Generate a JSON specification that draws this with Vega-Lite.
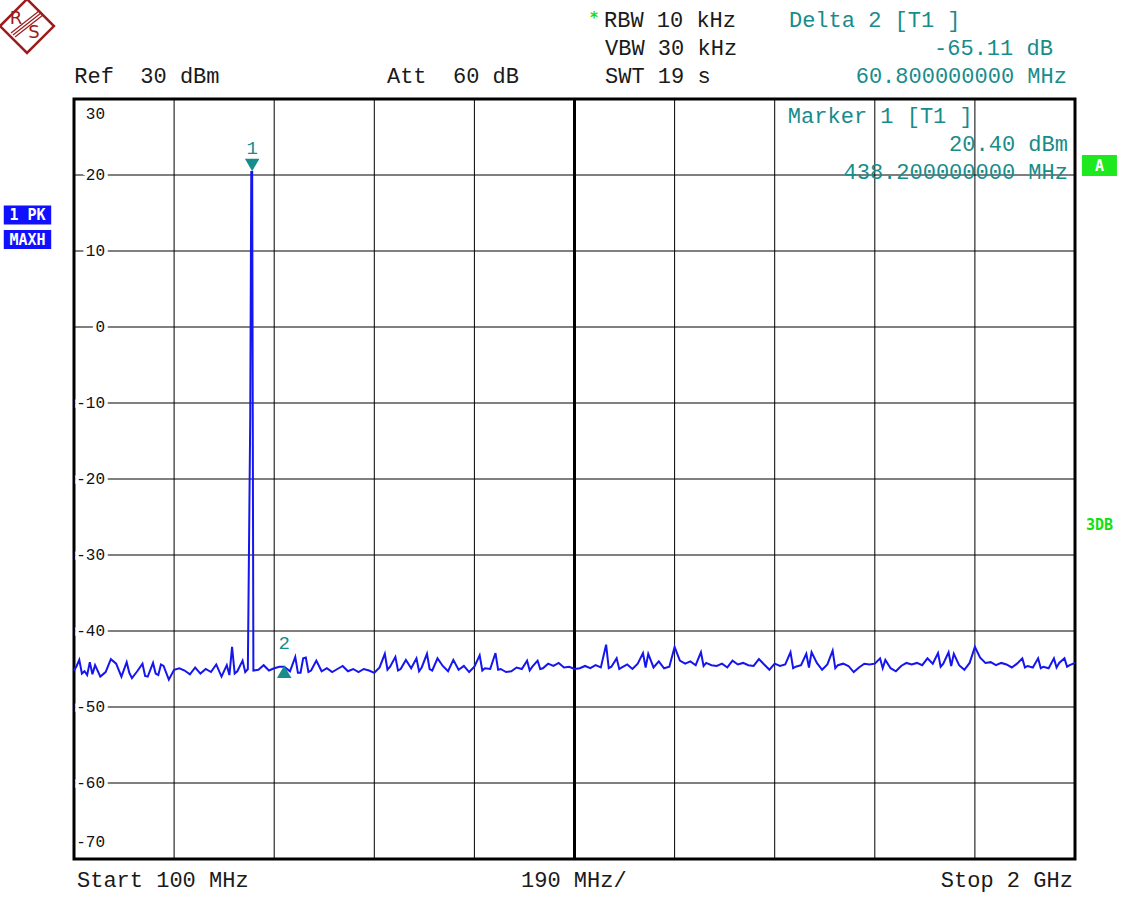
{
  "$schema": "https://vega.github.io/schema/vega-lite/v6.json",
  "width": 1001,
  "height": 760,
  "autosize": {"type": "none"},
  "padding": {"left": 74, "top": 99, "right": 56, "bottom": 43},
  "background": "white",
  "view": {"stroke": "black", "strokeWidth": 3},
  "config": {"font": "Liberation Mono"},
  "datasets": {
    "trace": [
      {"f":100,"db":-45.2},{"f":105,"db":-44.6},{"f":110,"db":-43.8},{"f":115,"db":-45.6},{"f":120,"db":-45.3},{"f":125,"db":-45.8},{"f":130,"db":-44.1},{"f":135,"db":-45.7},{"f":140,"db":-44.5},{"f":150,"db":-46.0},{"f":160,"db":-45.4},{"f":170,"db":-43.7},{"f":180,"db":-44.3},{"f":190,"db":-46.0},
      {"f":200,"db":-44.1},{"f":205,"db":-45.5},{"f":210,"db":-46.2},{"f":220,"db":-45.3},{"f":230,"db":-44.3},{"f":235,"db":-45.9},{"f":240,"db":-46.0},{"f":250,"db":-44.2},{"f":255,"db":-45.6},{"f":260,"db":-45.8},{"f":265,"db":-44.4},{"f":270,"db":-44.6},{"f":280,"db":-46.4},{"f":290,"db":-45.1},
      {"f":300,"db":-44.9},{"f":310,"db":-45.2},{"f":320,"db":-45.7},{"f":330,"db":-44.8},{"f":340,"db":-45.6},{"f":350,"db":-45.0},{"f":360,"db":-45.4},{"f":370,"db":-44.4},{"f":380,"db":-46.0},{"f":390,"db":-44.5},
      {"f":395,"db":-45.8},{"f":400,"db":-42.1},{"f":405,"db":-45.6},{"f":410,"db":-45.3},{"f":420,"db":-43.9},{"f":425,"db":-45.4},{"f":430,"db":-45.0},{"f":434.5,"db":-12.0},{"f":436.5,"db":20.4},{"f":438.2,"db":20.4},{"f":440.5,"db":-45.2},
      {"f":450,"db":-45.1},{"f":460,"db":-44.5},{"f":470,"db":-45.2},{"f":480,"db":-44.9},{"f":490,"db":-44.7},{"f":499,"db":-44.71},{"f":510,"db":-45.3},{"f":520,"db":-43.4},{"f":525,"db":-45.5},{"f":530,"db":-45.5},{"f":535,"db":-43.6},{"f":540,"db":-43.5},{"f":545,"db":-45.4},
      {"f":550,"db":-45.2},{"f":560,"db":-43.9},{"f":570,"db":-45.3},{"f":580,"db":-44.9},{"f":590,"db":-45.4},{"f":600,"db":-45.0},{"f":610,"db":-44.6},{"f":620,"db":-45.3},{"f":630,"db":-45.0},{"f":640,"db":-45.4},
      {"f":650,"db":-45.0},{"f":660,"db":-45.2},{"f":670,"db":-45.5},{"f":680,"db":-44.8},{"f":690,"db":-43.0},{"f":695,"db":-45.1},{"f":700,"db":-44.7},{"f":710,"db":-43.4},{"f":715,"db":-45.2},{"f":720,"db":-45.0},{"f":730,"db":-43.8},{"f":740,"db":-44.9},
      {"f":750,"db":-43.6},{"f":755,"db":-45.3},{"f":760,"db":-44.8},{"f":770,"db":-43.0},{"f":775,"db":-45.0},{"f":780,"db":-45.2},{"f":790,"db":-43.6},{"f":800,"db":-44.6},{"f":810,"db":-45.3},{"f":820,"db":-43.8},{"f":830,"db":-45.1},{"f":840,"db":-44.6},
      {"f":850,"db":-45.4},{"f":860,"db":-44.7},{"f":870,"db":-43.2},{"f":875,"db":-45.2},{"f":880,"db":-44.9},{"f":890,"db":-45.0},{"f":900,"db":-42.9},{"f":905,"db":-45.1},{"f":910,"db":-45.0},{"f":920,"db":-45.4},{"f":930,"db":-45.3},{"f":940,"db":-44.8},
      {"f":950,"db":-45.0},{"f":960,"db":-43.9},{"f":965,"db":-45.2},{"f":970,"db":-44.7},{"f":980,"db":-43.9},{"f":985,"db":-45.0},{"f":990,"db":-44.9},{"f":1000,"db":-44.3},{"f":1010,"db":-44.6},{"f":1020,"db":-44.2},{"f":1030,"db":-44.8},{"f":1040,"db":-44.7},
      {"f":1050,"db":-45.0},{"f":1060,"db":-44.9},{"f":1070,"db":-44.6},{"f":1080,"db":-44.9},{"f":1090,"db":-44.5},{"f":1100,"db":-44.8},{"f":1110,"db":-41.8},{"f":1115,"db":-44.9},{"f":1120,"db":-44.7},{"f":1130,"db":-43.6},{"f":1135,"db":-45.0},{"f":1140,"db":-44.8},
      {"f":1150,"db":-44.4},{"f":1160,"db":-45.0},{"f":1170,"db":-44.3},{"f":1180,"db":-42.9},{"f":1185,"db":-44.8},{"f":1190,"db":-43.0},{"f":1200,"db":-44.8},{"f":1210,"db":-44.0},{"f":1220,"db":-44.9},{"f":1230,"db":-44.7},{"f":1240,"db":-42.1},
      {"f":1250,"db":-43.9},{"f":1260,"db":-44.3},{"f":1270,"db":-44.0},{"f":1280,"db":-44.5},{"f":1290,"db":-42.8},{"f":1295,"db":-44.6},{"f":1300,"db":-44.2},{"f":1310,"db":-44.5},{"f":1320,"db":-44.6},{"f":1330,"db":-44.3},{"f":1340,"db":-44.8},
      {"f":1350,"db":-43.9},{"f":1360,"db":-44.4},{"f":1370,"db":-44.2},{"f":1380,"db":-44.5},{"f":1390,"db":-44.6},{"f":1400,"db":-43.7},{"f":1410,"db":-44.4},{"f":1420,"db":-45.1},{"f":1430,"db":-44.3},{"f":1440,"db":-44.6},
      {"f":1450,"db":-44.4},{"f":1460,"db":-42.8},{"f":1465,"db":-44.9},{"f":1470,"db":-44.7},{"f":1480,"db":-44.5},{"f":1490,"db":-43.0},{"f":1495,"db":-44.8},{"f":1500,"db":-42.8},{"f":1510,"db":-44.2},{"f":1520,"db":-45.1},{"f":1530,"db":-44.4},{"f":1540,"db":-42.6},
      {"f":1545,"db":-44.9},{"f":1550,"db":-44.5},{"f":1560,"db":-44.3},{"f":1570,"db":-44.6},{"f":1580,"db":-45.4},{"f":1590,"db":-44.8},{"f":1600,"db":-44.3},{"f":1610,"db":-44.4},{"f":1620,"db":-44.3},{"f":1630,"db":-43.6},{"f":1635,"db":-44.9},{"f":1640,"db":-43.8},
      {"f":1650,"db":-44.9},{"f":1660,"db":-45.3},{"f":1670,"db":-44.6},{"f":1680,"db":-44.2},{"f":1690,"db":-44.4},{"f":1700,"db":-44.2},{"f":1710,"db":-44.5},{"f":1720,"db":-43.6},{"f":1730,"db":-44.3},{"f":1740,"db":-42.9},
      {"f":1745,"db":-44.7},{"f":1750,"db":-44.3},{"f":1760,"db":-42.8},{"f":1765,"db":-44.6},{"f":1770,"db":-43.0},{"f":1780,"db":-44.5},{"f":1790,"db":-45.1},{"f":1800,"db":-44.2},{"f":1810,"db":-42.1},{"f":1820,"db":-43.5},{"f":1830,"db":-44.2},{"f":1840,"db":-44.1},
      {"f":1850,"db":-44.5},{"f":1860,"db":-44.2},{"f":1870,"db":-44.4},{"f":1880,"db":-44.8},{"f":1890,"db":-44.3},{"f":1900,"db":-43.6},{"f":1905,"db":-44.8},{"f":1910,"db":-44.6},{"f":1920,"db":-44.8},{"f":1930,"db":-43.6},{"f":1935,"db":-44.9},{"f":1940,"db":-44.7},
      {"f":1950,"db":-44.9},{"f":1960,"db":-43.6},{"f":1965,"db":-44.8},{"f":1970,"db":-44.2},{"f":1980,"db":-43.6},{"f":1985,"db":-44.7},{"f":1990,"db":-44.5},{"f":2000,"db":-44.2}
    ],
    "vgrid": [{"f":290},{"f":480},{"f":670},{"f":860},{"f":1240},{"f":1430},{"f":1620},{"f":1810}],
    "hgrid": [{"db":20},{"db":10},{"db":0},{"db":-10},{"db":-20},{"db":-30},{"db":-40},{"db":-50},{"db":-60}],
    "ylabels": [{"db":20,"label":"20"},{"db":10,"label":"10"},{"db":0,"label":"0"},{"db":-10,"label":"-10"},{"db":-20,"label":"-20"},{"db":-30,"label":"-30"},{"db":-40,"label":"-40"},{"db":-50,"label":"-50"},{"db":-60,"label":"-60"}],
    "markers": [{"m":"1","f":438.2,"db":20.4},{"m":"2","f":499.0,"db":-44.71}],
    "notesLeft": [
      {"text":"Ref\u00a0\u00a030\u00a0dBm","f":100.5,"db":33.03,"kind":"setting"},
      {"text":"Att\u00a0\u00a060\u00a0dB","f":694,"db":33.03,"kind":"setting"},
      {"text":"RBW\u00a010\u00a0kHz","f":1106,"db":40.39,"kind":"setting"},
      {"text":"VBW\u00a030\u00a0kHz","f":1108,"db":36.71,"kind":"setting"},
      {"text":"SWT\u00a019\u00a0s","f":1108,"db":33.03,"kind":"setting"},
      {"text":"Delta\u00a02\u00a0[T1\u00a0]","f":1457,"db":40.39,"kind":"marker"},
      {"text":"Marker\u00a01\u00a0[T1\u00a0]","f":1455,"db":27.76,"kind":"marker"},
      {"text":"Start\u00a0100\u00a0MHz","f":105.7,"db":-72.76,"kind":"setting"},
      {"text":"190\u00a0MHz/","f":948.4,"db":-72.76,"kind":"setting"}
    ],
    "notesRight": [
      {"text":"-65.11\u00a0dB","f":1958,"db":36.71,"kind":"marker"},
      {"text":"60.800000000\u00a0MHz","f":1984.7,"db":33.03,"kind":"marker"},
      {"text":"20.40\u00a0dBm","f":1986.6,"db":24.08,"kind":"marker"},
      {"text":"438.200000000\u00a0MHz","f":1986.6,"db":20.39,"kind":"marker"},
      {"text":"Stop\u00a02\u00a0GHz","f":1996,"db":-72.76,"kind":"setting"}
    ],
    "blueBoxes": [{"text":"1\u00a0PK","f":11.7,"db":14.74},{"text":"MAXH","f":11.7,"db":11.51}],
    "greenBox": [{"text":"A","f":2046.4,"db":21.25}],
    "greenText": [{"text":"3DB","f":2046.4,"db":-26.05},{"text":"*","f":1087,"db":40.6}],
    "logo": [{"f":10.8,"db":39.6}],
    "logoText": [{"text":"R","f":-10.1,"db":40.5},{"text":"S","f":24.1,"db":38.7}],
    "logoLines": [
      {"f":-19.6,"db":38.68,"f2":33.6,"db2":41.58},
      {"f":-15.8,"db":38.42,"f2":37.4,"db2":41.32},
      {"f":-12.0,"db":38.16,"f2":41.2,"db2":41.05}
    ]
  },
  "layer": [
    {
      "data": {"name": "hgrid"},
      "mark": {"type": "rule", "color": "black", "strokeWidth": 1},
      "encoding": {
        "y": {"field": "db", "type": "quantitative", "scale": {"domain": [-70, 30], "nice": false, "zero": false}, "axis": null}
      }
    },
    {
      "data": {"name": "vgrid"},
      "mark": {"type": "rule", "color": "black", "strokeWidth": 1},
      "encoding": {
        "x": {"field": "f", "type": "quantitative", "scale": {"domain": [100, 2000], "nice": false, "zero": false}, "axis": null}
      }
    },
    {
      "data": {"values": [{"f": 1050}]},
      "mark": {"type": "rule", "color": "black", "strokeWidth": 3},
      "encoding": {
        "x": {"field": "f", "type": "quantitative", "scale": {"domain": [100, 2000], "nice": false, "zero": false}, "axis": null}
      }
    },
    {
      "data": {"name": "ylabels"},
      "mark": {"type": "text", "align": "right", "baseline": "middle", "dx": 31, "fontSize": 16, "stroke": "white", "strokeWidth": 7, "fill": "white"},
      "encoding": {
        "x": {"datum": 100, "type": "quantitative", "scale": {"domain": [100, 2000], "nice": false, "zero": false}, "axis": null},
        "y": {"field": "db", "type": "quantitative", "scale": {"domain": [-70, 30], "nice": false, "zero": false}, "axis": null},
        "text": {"field": "label"}
      }
    },
    {
      "data": {"name": "ylabels"},
      "mark": {"type": "text", "align": "right", "baseline": "middle", "dx": 31, "fontSize": 16, "fill": "#111"},
      "encoding": {
        "x": {"datum": 100, "type": "quantitative", "scale": {"domain": [100, 2000], "nice": false, "zero": false}, "axis": null},
        "y": {"field": "db", "type": "quantitative", "scale": {"domain": [-70, 30], "nice": false, "zero": false}, "axis": null},
        "text": {"field": "label"}
      }
    },
    {
      "data": {"values": [{"db": 30, "label": "30"}]},
      "mark": {"type": "text", "align": "right", "baseline": "middle", "dx": 31, "dy": 15, "fontSize": 16, "fill": "#111"},
      "encoding": {
        "x": {"datum": 100, "type": "quantitative", "scale": {"domain": [100, 2000], "nice": false, "zero": false}, "axis": null},
        "y": {"field": "db", "type": "quantitative", "scale": {"domain": [-70, 30], "nice": false, "zero": false}, "axis": null},
        "text": {"field": "label"}
      }
    },
    {
      "data": {"values": [{"db": -70, "label": "-70"}]},
      "mark": {"type": "text", "align": "right", "baseline": "middle", "dx": 31, "dy": -17, "fontSize": 16, "fill": "#111"},
      "encoding": {
        "x": {"datum": 100, "type": "quantitative", "scale": {"domain": [100, 2000], "nice": false, "zero": false}, "axis": null},
        "y": {"field": "db", "type": "quantitative", "scale": {"domain": [-70, 30], "nice": false, "zero": false}, "axis": null},
        "text": {"field": "label"}
      }
    },
    {
      "data": {"name": "trace"},
      "mark": {"type": "line", "color": "#1515f0", "strokeWidth": 2, "interpolate": "linear"},
      "encoding": {
        "x": {"field": "f", "type": "quantitative", "scale": {"domain": [100, 2000], "nice": false, "zero": false}, "axis": null},
        "y": {"field": "db", "type": "quantitative", "scale": {"domain": [-70, 30], "nice": false, "zero": false}, "axis": null}
      }
    },
    {
      "data": {"name": "markers"},
      "transform": [{"filter": "datum.m == '1'"}],
      "mark": {"type": "point", "shape": "triangle-down", "filled": true, "color": "#178c8c", "size": 210, "opacity": 1},
      "encoding": {
        "x": {"field": "f", "type": "quantitative", "scale": {"domain": [100, 2000], "nice": false, "zero": false}, "axis": null},
        "y": {"field": "db", "type": "quantitative", "scale": {"domain": [-70, 30], "nice": false, "zero": false}, "axis": null},
        "yOffset": {"value": -7}
      }
    },
    {
      "data": {"name": "markers"},
      "transform": [{"filter": "datum.m == '2'"}],
      "mark": {"type": "point", "shape": "triangle-up", "filled": true, "color": "#178c8c", "size": 210, "opacity": 1},
      "encoding": {
        "x": {"field": "f", "type": "quantitative", "scale": {"domain": [100, 2000], "nice": false, "zero": false}, "axis": null},
        "y": {"field": "db", "type": "quantitative", "scale": {"domain": [-70, 30], "nice": false, "zero": false}, "axis": null},
        "yOffset": {"value": 5}
      }
    },
    {
      "data": {"name": "markers"},
      "mark": {"type": "text", "align": "center", "baseline": "middle", "dy": -24, "fontSize": 19, "color": "#178c8c"},
      "encoding": {
        "x": {"field": "f", "type": "quantitative", "scale": {"domain": [100, 2000], "nice": false, "zero": false}, "axis": null},
        "y": {"field": "db", "type": "quantitative", "scale": {"domain": [-70, 30], "nice": false, "zero": false}, "axis": null},
        "text": {"field": "m"}
      }
    },
    {
      "data": {"name": "notesLeft"},
      "mark": {"type": "text", "align": "left", "baseline": "middle", "fontSize": 22},
      "encoding": {
        "x": {"field": "f", "type": "quantitative", "scale": {"domain": [100, 2000], "nice": false, "zero": false}, "axis": null},
        "y": {"field": "db", "type": "quantitative", "scale": {"domain": [-70, 30], "nice": false, "zero": false}, "axis": null},
        "text": {"field": "text"},
        "color": {"field": "kind", "type": "nominal", "scale": {"domain": ["setting", "marker"], "range": ["#1a1a1a", "#178c8c"]}, "legend": null}
      }
    },
    {
      "data": {"name": "notesRight"},
      "mark": {"type": "text", "align": "right", "baseline": "middle", "fontSize": 22},
      "encoding": {
        "x": {"field": "f", "type": "quantitative", "scale": {"domain": [100, 2000], "nice": false, "zero": false}, "axis": null},
        "y": {"field": "db", "type": "quantitative", "scale": {"domain": [-70, 30], "nice": false, "zero": false}, "axis": null},
        "text": {"field": "text"},
        "color": {"field": "kind", "type": "nominal", "scale": {"domain": ["setting", "marker"], "range": ["#1a1a1a", "#178c8c"]}, "legend": null}
      }
    },
    {
      "data": {"name": "blueBoxes"},
      "mark": {"type": "point", "shape": "M-1,-0.4H1V0.4H-1Z", "filled": true, "color": "#1010ff", "size": 2250, "opacity": 1},
      "encoding": {
        "x": {"field": "f", "type": "quantitative", "scale": {"domain": [100, 2000], "nice": false, "zero": false}, "axis": null},
        "y": {"field": "db", "type": "quantitative", "scale": {"domain": [-70, 30], "nice": false, "zero": false}, "axis": null}
      }
    },
    {
      "data": {"name": "blueBoxes"},
      "mark": {"type": "text", "align": "center", "baseline": "middle", "fontSize": 15, "fontWeight": "bold", "font": "DejaVu Sans Mono", "color": "white"},
      "encoding": {
        "x": {"field": "f", "type": "quantitative", "scale": {"domain": [100, 2000], "nice": false, "zero": false}, "axis": null},
        "y": {"field": "db", "type": "quantitative", "scale": {"domain": [-70, 30], "nice": false, "zero": false}, "axis": null},
        "text": {"field": "text"}
      }
    },
    {
      "data": {"name": "greenBox"},
      "mark": {"type": "point", "shape": "M-1,-0.6H1V0.6H-1Z", "filled": true, "color": "#1ee81e", "size": 1225, "opacity": 1},
      "encoding": {
        "x": {"field": "f", "type": "quantitative", "scale": {"domain": [100, 2000], "nice": false, "zero": false}, "axis": null},
        "y": {"field": "db", "type": "quantitative", "scale": {"domain": [-70, 30], "nice": false, "zero": false}, "axis": null}
      }
    },
    {
      "data": {"name": "greenBox"},
      "mark": {"type": "text", "align": "center", "baseline": "middle", "fontSize": 15, "fontWeight": "bold", "font": "DejaVu Sans Mono", "color": "white"},
      "encoding": {
        "x": {"field": "f", "type": "quantitative", "scale": {"domain": [100, 2000], "nice": false, "zero": false}, "axis": null},
        "y": {"field": "db", "type": "quantitative", "scale": {"domain": [-70, 30], "nice": false, "zero": false}, "axis": null},
        "text": {"field": "text"}
      }
    },
    {
      "data": {"name": "greenText"},
      "mark": {"type": "text", "align": "center", "baseline": "middle", "fontSize": 15, "fontWeight": "bold", "font": "DejaVu Sans Mono", "color": "#10e010"},
      "encoding": {
        "x": {"field": "f", "type": "quantitative", "scale": {"domain": [100, 2000], "nice": false, "zero": false}, "axis": null},
        "y": {"field": "db", "type": "quantitative", "scale": {"domain": [-70, 30], "nice": false, "zero": false}, "axis": null},
        "text": {"field": "text"}
      }
    },
    {
      "data": {"name": "logo"},
      "mark": {"type": "point", "shape": "diamond", "filled": false, "color": "#9b1c1c", "strokeWidth": 2.5, "size": 2900, "opacity": 1},
      "encoding": {
        "x": {"field": "f", "type": "quantitative", "scale": {"domain": [100, 2000], "nice": false, "zero": false}, "axis": null},
        "y": {"field": "db", "type": "quantitative", "scale": {"domain": [-70, 30], "nice": false, "zero": false}, "axis": null}
      }
    },
    {
      "data": {"name": "logoLines"},
      "mark": {"type": "rule", "color": "#9b1c1c", "strokeWidth": 1.2},
      "encoding": {
        "x": {"field": "f", "type": "quantitative", "scale": {"domain": [100, 2000], "nice": false, "zero": false}, "axis": null},
        "y": {"field": "db", "type": "quantitative", "scale": {"domain": [-70, 30], "nice": false, "zero": false}, "axis": null},
        "x2": {"field": "f2"},
        "y2": {"field": "db2"}
      }
    },
    {
      "data": {"name": "logoText"},
      "mark": {"type": "text", "align": "center", "baseline": "middle", "fontSize": 18, "font": "DejaVu Sans", "color": "#9b1c1c"},
      "encoding": {
        "x": {"field": "f", "type": "quantitative", "scale": {"domain": [100, 2000], "nice": false, "zero": false}, "axis": null},
        "y": {"field": "db", "type": "quantitative", "scale": {"domain": [-70, 30], "nice": false, "zero": false}, "axis": null},
        "text": {"field": "text"}
      }
    }
  ]
}
